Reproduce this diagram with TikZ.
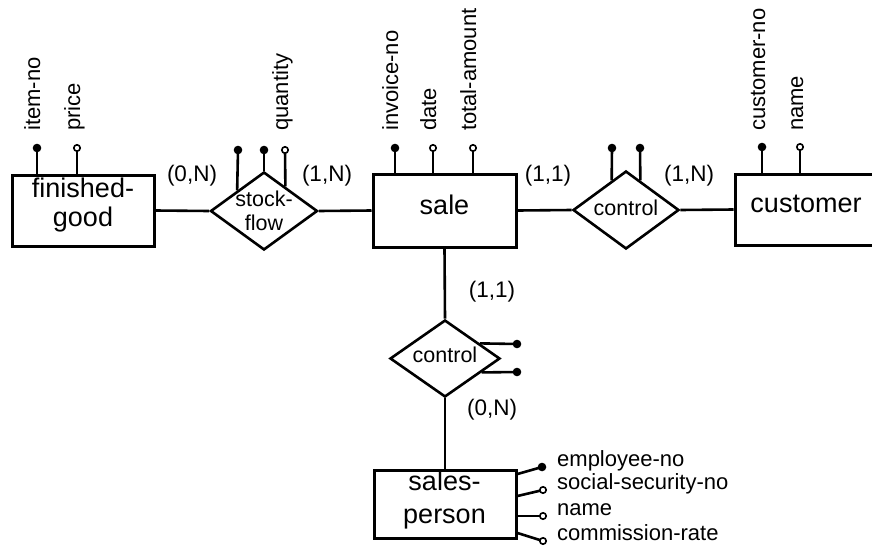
\documentclass[tikz,border=0pt]{standalone}
\usepackage{fontspec}
\setmainfont{Liberation Sans}
\usetikzlibrary{shapes.geometric,calc}

\tikzset{
  entity/.style={draw, rectangle, line width=3pt, inner sep=0pt},
  rel/.style={draw, diamond, line width=2.6pt, inner sep=0pt},
  link/.style={line width=2.6pt},
  enttext/.style={font=\fontsize{27}{31}\selectfont, align=center, inner sep=0pt},
  reltext/.style={font=\fontsize{21.5}{24}\selectfont, align=center, inner sep=0pt},
  card/.style={font=\fontsize{22.5}{24}\selectfont, inner sep=0pt},
  attrup/.style={font=\fontsize{22}{24}\selectfont, inner sep=0pt, rotate=90, anchor=base west},
  attrright/.style={font=\fontsize{22}{24}\selectfont, inner sep=0pt, anchor=base west},
  keydot/.style={fill=black},
  optdot/.style={draw=black, fill=white, line width=1.6pt},
}

\begin{document}
\begin{tikzpicture}[x=1pt, y=-1pt]
  \clip (0,0) rectangle (872,546);
  \fill[white] (0,0) rectangle (872,546);

  % entities
  \node[entity, minimum width=142pt, minimum height=71pt] (fg) at (83,210.5) {};
  \node[entity, minimum width=143pt, minimum height=73pt] (sale) at (444.5,210.5) {};
  \node[entity, minimum width=155pt, minimum height=71pt] (cust) at (812.5,209.5) {};
  \node[entity, minimum width=142pt, minimum height=68pt] (sp) at (445,504) {};

  \node[enttext, font=\fontsize{27}{29}\selectfont] (fgt) at (83,205) {finished-\\good};
  \node[enttext] (salet) at (444.5,205) {sale};
  \node[enttext] (custt) at (806,204) {customer};
  \node[enttext, font=\fontsize{27}{33}\selectfont] (spt) at (444.5,500) {sales-\\person};

  % relationships
  \node[rel, minimum width=107pt, minimum height=78pt] (sf) at (264,211) {};
  \node[rel, minimum width=106pt, minimum height=78pt] (c1) at (626,210) {};
  \node[rel, minimum width=110pt, minimum height=77pt] (c2) at (445,358.5) {};

  \node[reltext] (sft) at (264,210.5) {stock-\\flow};
  \node[reltext] (c1t) at (626,208) {control};
  \node[reltext] (c2t) at (445,355) {control};

  % connectors
  \draw[link] (fg.east) -- (sf.west);
  \draw[link] (sf.east) -- (sale.west);
  \draw[link] (sale.east) -- (c1.west);
  \draw[link] (c1.east) -- (cust.west);
  \draw[link] (sale.south) -- (c2.north);
  \draw[link] (c2.south) -- (sp.north);

  % cardinalities
  \node[card] (k1) at (192,176) {(0,N)};
  \node[card] (k2) at (327,176) {(1,N)};
  \node[card] (k3) at (548,176) {(1,1)};
  \node[card] (k4) at (689,176) {(1,N)};
  \node[card] (k5) at (492,292) {(1,1)};
  \node[card] (k6) at (492,410) {(0,N)};

  % attribute end points
  \coordinate (a1) at (37,148);
  \coordinate (a2) at (77,148);
  \coordinate (a3) at (238,150);
  \coordinate (a4) at (264,150);
  \coordinate (a5) at (285,150);
  \coordinate (a6) at (395,148);
  \coordinate (a7) at (433,148);
  \coordinate (a8) at (473,148);
  \coordinate (a9) at (612,148);
  \coordinate (a10) at (640,148);
  \coordinate (a11) at (762,147);
  \coordinate (a12) at (800,147);
  \coordinate (a13) at (517,344);
  \coordinate (a14) at (517,372);
  \coordinate (a15) at (542,467);
  \coordinate (a16) at (543,490);
  \coordinate (a17) at (543,516);
  \coordinate (a18) at (543,541);

  % stems
  \draw[link] (a1) -- (a1 |- fg.north);
  \draw[link] (a2) -- (a2 |- fg.north);
  \draw[link] (a3) -- ($(sf.west)!0.51!(sf.north)$);
  \draw[link] (a4) -- (sf.north);
  \draw[link] (a5) -- ($(sf.north)!0.39!(sf.east)$);
  \draw[link] (a6) -- (a6 |- sale.north);
  \draw[link] (a7) -- (a7 |- sale.north);
  \draw[link] (a8) -- (a8 |- sale.north);
  \draw[link] (a9) -- ($(c1.west)!0.736!(c1.north)$);
  \draw[link] (a10) -- ($(c1.north)!0.264!(c1.east)$);
  \draw[link] (a11) -- (a11 |- cust.north);
  \draw[link] (a12) -- (a12 |- cust.north);
  \draw[link] (a13) -- ($(c2.north)!0.62!(c2.east)$);
  \draw[link] (a14) -- ($(c2.east)!0.35!(c2.south)$);
  \draw[link] (a15) -- (sp.east |- 0,474);
  \draw[link] (a16) -- (sp.east |- 0,496);
  \draw[link] (a17) -- (sp.east |- 0,516);
  \draw[link] (a18) -- (sp.east |- 0,533);

  % key and optional markers
  \foreach \p in {a1,a3,a4,a6,a9,a10,a11,a13,a14,a15}
    \fill[keydot] (\p) circle (4.3pt);
  \foreach \p in {a2,a5,a7,a8,a12,a16,a17,a18}
    \draw[optdot] (\p) circle (3.2pt);

  % attribute names
  \node[attrup] (n1) at ($(a1)+(3,-17)$) {item-no};
  \node[attrup] (n2) at ($(a2)+(3,-17)$) {price};
  \node[attrup] (n5) at ($(a5)+(3,-19)$) {quantity};
  \node[attrup] (n6) at ($(a6)+(3,-17)$) {invoice-no};
  \node[attrup] (n7) at ($(a7)+(3,-17)$) {date};
  \node[attrup] (n8) at ($(a8)+(3,-17)$) {total-amount};
  \node[attrup] (n11) at ($(a11)+(3,-16)$) {customer-no};
  \node[attrup] (n12) at ($(a12)+(3,-16)$) {name};
  \node[attrright] (n15) at ($(a15)+(15,-1)$) {employee-no};
  \node[attrright] (n16) at ($(a16)+(14,-1)$) {social-security-no};
  \node[attrright] (n17) at ($(a17)+(14,-1)$) {name};
  \node[attrright] (n18) at ($(a18)+(14,-1)$) {commission-rate};
\end{tikzpicture}
\end{document}
